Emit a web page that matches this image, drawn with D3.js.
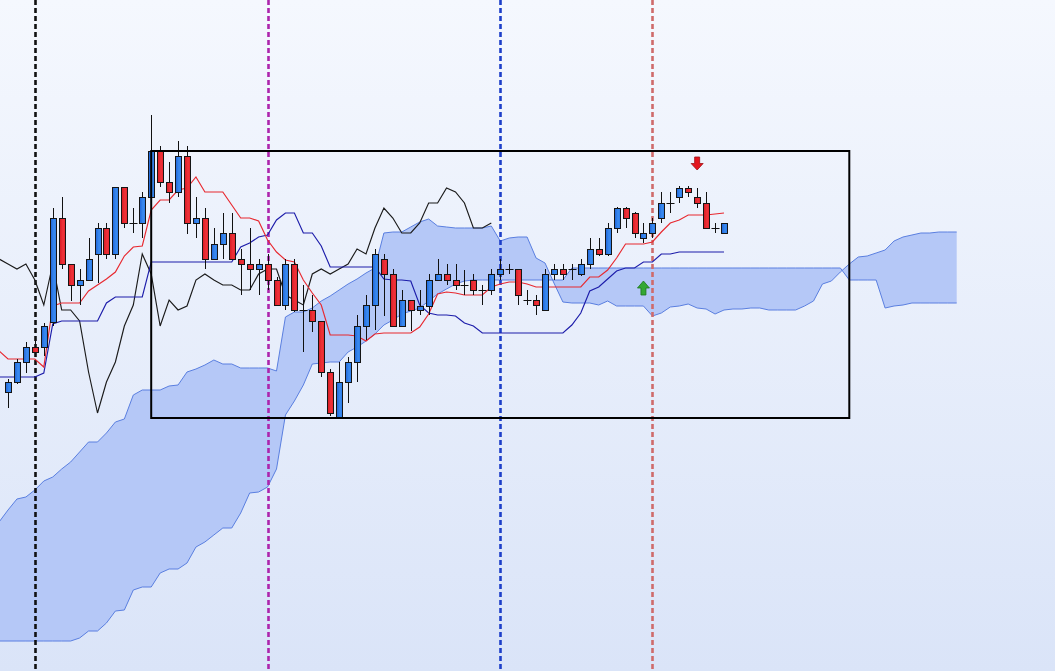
<!DOCTYPE html>
<html><head><meta charset="utf-8">
<script src="https://cdn.jsdelivr.net/npm/d3@7"></script>
<style>html,body{margin:0;padding:0;overflow:hidden;background:#fff}</style>
</head><body>
<svg id="chart" width="1055" height="671"></svg>
<script>
// ---- candle data (index 0..80) ----
const openP = [608,618,638,653,653,678,782,736,715,720, 746,772,746,813,777,777,803,849,818,808,
  844,777,782,741,756,767,741,736,731,736, 720,695,736,690,690,679,628,583,618,638,
  674,695,741,726,674,700,690,694,720,726, 720,715,720,710,710,726,731,731,700,700,
  690,726,731,731,726,736,751,746,772,792, 787,762,767,782,797,803,812,803,797,772, 767];
const highP = [621,641,658,663,677,792,803,736,731,762, 777,777,813,813,792,808,885,854,838,859,
  854,803,792,772,787,787,751,772,741,746, 723,741,741,715,705,679,631,638,643,685,
  705,751,746,731,710,700,710,726,741,736, 736,730,726,715,731,741,736,731,710,705,
  731,736,736,736,741,762,762,777,793,793, 788,777,782,808,808,814,814,812,808,777, 777];
const lowP = [592,616,627,643,644,674,731,699,695,719, 717,741,741,772,767,762,800,813,797,803,
  766,762,731,741,741,741,705,710,705,710, 694,690,688,648,668,623,584,582,597,618,
  660,670,684,673,673,669,685,685,720,715, 710,705,705,695,705,720,726,695,695,685,
  690,720,720,720,724,731,744,744,767,772, 762,757,762,777,787,797,803,792,771,767, 767];
const closeP = [618,638,653,648,674,782,736,715,720,741, 772,746,813,777,777,803,849,818,808,844,
  777,782,741,756,767,741,736,731,736,720, 695,736,690,690,679,628,587,618,638,674,
  695,746,726,674,700,690,694,720,726,720, 715,715,710,710,726,731,731,705,700,695,
  726,731,726,731,736,751,746,772,792,782, 767,767,777,797,797,812,808,797,772,772, 777];

// ---- Ichimoku lines (index -1..80) ----
const lineStart = -1;
const tenkan = [649, 641,641,641,641,633,694,697,697,697,709, 715,721,728,744,753,754,790,800,800,810,
  812,823,808,808,808,795,782,782,779,760, 748,740,738,720,707,695,665,665,665,664,
  659,666,667,667,667,667,673,686,706,708, 707,705,705,705,713,716,718,718,716,713,
  713,713,713,713,713,723,723,730,742,756, 756,756,758,768,777,780,785,785,785,786, 787];
const kijun = [623, 623,623,623,623,627,676,679,679,679,679, 679,697,703,703,703,703,738,738,738,738,
  738,738,738,738,738,738,753,757,763,765, 780,787,787,767,767,754,733,733,733,733,
  733,733,721,720,720,719,695,687,685,685, 684,677,674,667,667,667,667,667,667,667,
  667,667,667,675,687,709,713,721,729,732, 732,738,738,746,746,748,748,748,748,748, 748];

// ---- cloud spans (index -1..106) ----
const spanStart = -1;
const spanA = [478, 490,501,503,510,519,523,531,538,548,558, 558,567,578,581,605,610,610,610,614,615,
  628,631,635,640,636,636,632,632,632,632, 629,683,688,688,692,699,704,710,716,721,
  727,732,767,768,768,773,778,781,774,773, 772,772,772,772,774,759,762,763,763,742,
  737,717,698,697,697,697,695,699,694,694, 694,694,684,687,693,694,696,692,691,686,
  690,691,691,692,692,690,690,690,690,694, 699,716,719,728,736,743,744,747,750,759,
  763,765,767,767,768,768,768];
const spanB = [359, 359,359,359,359,359,359,359,359,362,369, 369,377,389,390,410,413,413,427,431,431,
  437,453,458,465,472,472,487,507,508,513, 531,585,599,615,636,637,638,638,648,653,
  659,666,675,680,686,689,692,699,706,711, 716,719,720,720,720,720,720,720,720,720,
  720,720,720,732,732,732,732,732,732,732, 732,732,732,732,732,732,732,732,732,732,
  732,732,732,732,732,732,732,732,732,732, 732,732,732,732,720,720,720,720,692,694,
  695,697,697,697,697,697,697];
const chikouShift = 26;

// ---- annotations ----
const vLineIdx = [3, 29, 55, 72];
const vLineColors = ['#111111', '#ad25ad', '#1d3fc9', '#cf6b6b'];
const boxIdx = [16, 94];
const boxPrice = [849, 582];
const downArrow = {i: 77, top: 843, tip: 830};
const upArrow = {i: 71, tip: 719, bottom: 705};

const W = 1055, H = 671;
const svg = d3.select('#chart');
const defs = svg.append('defs');
const bg = defs.append('linearGradient').attr('id','bg').attr('x1',0).attr('y1',0).attr('x2',0).attr('y2',1);
bg.append('stop').attr('offset','0%').attr('stop-color','#f5f8fe');
bg.append('stop').attr('offset','100%').attr('stop-color','#dae4f8');
const gb = defs.append('linearGradient').attr('id','gblue').attr('x1',0).attr('y1',0).attr('x2',1).attr('y2',0);
gb.append('stop').attr('offset','0%').attr('stop-color','#1f63d6');
gb.append('stop').attr('offset','60%').attr('stop-color','#3a8bf0');
gb.append('stop').attr('offset','100%').attr('stop-color','#2c79e6');
const gr = defs.append('linearGradient').attr('id','gred').attr('x1',0).attr('y1',0).attr('x2',1).attr('y2',0);
gr.append('stop').attr('offset','0%').attr('stop-color','#d41a22');
gr.append('stop').attr('offset','60%').attr('stop-color','#f0333a');
gr.append('stop').attr('offset','100%').attr('stop-color','#e2242c');

svg.append('rect').attr('width', W).attr('height', H).attr('fill', 'url(#bg)');

const x = d3.scaleLinear().domain([0, 80]).range([8, 724]);
const y = d3.scaleLinear().domain([329, 1000]).range([H, 0]);

// cloud
const cloud = spanA.map((a, k) => ({i: k + spanStart, a, b: spanB[k]}));
svg.append('path').datum(cloud)
  .attr('d', d3.area().x(d => x(d.i)).y0(d => y(d.b)).y1(d => y(d.a)))
  .attr('fill', '#b5c8f7');
const edge = key => d3.line().x(d => x(d.i)).y(d => y(d[key]));
['a','b'].forEach(k => svg.append('path').datum(cloud).attr('d', edge(k))
  .attr('fill','none').attr('stroke','#5a7fe0').attr('stroke-width',1));

// vertical dashed lines
vLineIdx.forEach((idx, k) => {
  const xv = Math.round(x(idx)) + 0.5;
  svg.append('line').attr('x1', xv).attr('x2', xv).attr('y1', 0).attr('y2', H)
    .attr('stroke', vLineColors[k]).attr('stroke-width', 2.6).attr('stroke-dasharray', '5,3');
});

// lines
const mk = (arr, start) => arr.map((v, k) => ({i: k + start, v}));
const ln = d3.line().x(d => x(d.i)).y(d => y(d.v));
const chikou = closeP.slice(chikouShift + lineStart).map((v, k) => ({i: k + lineStart, v}));
svg.append('path').datum(chikou).attr('d', ln).attr('fill','none').attr('stroke','#1a1a1a').attr('stroke-width',1.15);
svg.append('path').datum(mk(kijun, lineStart)).attr('d', ln).attr('fill','none').attr('stroke','#1c1caa').attr('stroke-width',1.15);
svg.append('path').datum(mk(tenkan, lineStart)).attr('d', ln).attr('fill','none').attr('stroke','#e8282f').attr('stroke-width',1.15);

// candles
const g = svg.append('g');
openP.forEach((o, i) => {
  const c = closeP[i], h = highP[i], l = lowP[i];
  const cx = Math.round(x(i)) + 0.5;
  g.append('line').attr('x1', cx).attr('x2', cx).attr('y1', y(h)).attr('y2', y(l))
    .attr('stroke', '#111').attr('stroke-width', 1);
  if (o === c) {
    g.append('line').attr('x1', cx - 4).attr('x2', cx + 4).attr('y1', Math.round(y(c)) + 0.5).attr('y2', Math.round(y(c)) + 0.5)
      .attr('stroke', '#111').attr('stroke-width', 1);
  } else {
    const top = Math.round(y(Math.max(o, c))) + 0.5, bot = Math.round(y(Math.min(o, c))) + 0.5;
    g.append('rect').attr('x', cx - 3).attr('y', top).attr('width', 6).attr('height', bot - top)
      .attr('fill', c > o ? 'url(#gblue)' : 'url(#gred)').attr('stroke', '#151515').attr('stroke-width', 1);
  }
});

// box
svg.append('rect').attr('x', x(boxIdx[0])).attr('y', y(boxPrice[0]))
  .attr('width', x(boxIdx[1]) - x(boxIdx[0])).attr('height', y(boxPrice[1]) - y(boxPrice[0]))
  .attr('fill', 'none').attr('stroke', '#000').attr('stroke-width', 2);

// arrows
function arrowPath(cx, yBase, yTip) {
  const dir = yTip > yBase ? 1 : -1;
  const len = Math.abs(yTip - yBase), sh = len * 0.5;
  const yMid = yBase + dir * sh;
  return `M${cx-2.5},${yBase} L${cx+2.5},${yBase} L${cx+2.5},${yMid} L${cx+6},${yMid} L${cx},${yTip} L${cx-6},${yMid} L${cx-2.5},${yMid} Z`;
}
svg.append('path').attr('d', arrowPath(x(downArrow.i), y(downArrow.top), y(downArrow.tip)))
  .attr('fill', '#e4161e').attr('stroke', '#a00f14').attr('stroke-width', 0.8);
svg.append('path').attr('d', arrowPath(x(upArrow.i), y(upArrow.bottom), y(upArrow.tip)))
  .attr('fill', '#34a834').attr('stroke', '#1d761d').attr('stroke-width', 0.8);
</script>
</body></html>
